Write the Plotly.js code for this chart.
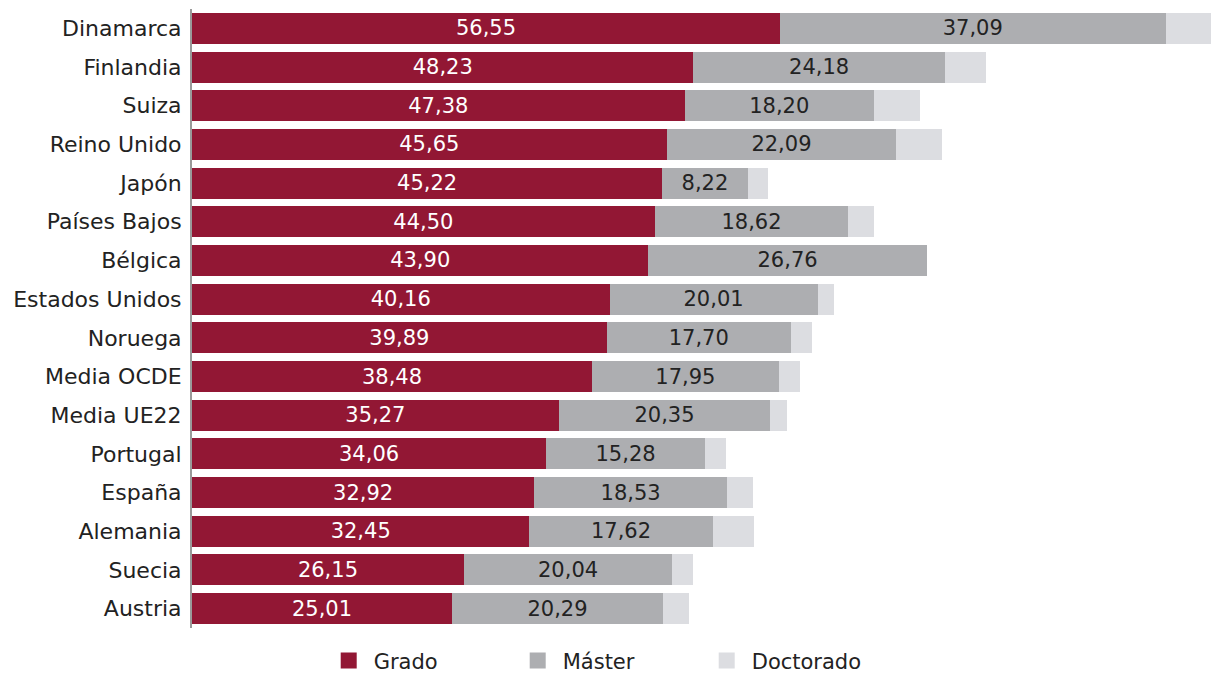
<!DOCTYPE html>
<html>
<head>
<meta charset="utf-8">
<script src="https://cdn.plot.ly/plotly-3.0.1.min.js"></script>
<style>html,body{margin:0;padding:0;background:#fff;}#chart{width:1213px;height:674px;}</style>
</head>
<body>
<div id="chart"></div>
<script>
const countries = ["Dinamarca","Finlandia","Suiza","Reino Unido","Japón","Países Bajos","Bélgica","Estados Unidos","Noruega","Media OCDE","Media UE22","Portugal","España","Alemania","Suecia","Austria"];
const grado = [56.55,48.23,47.38,45.65,45.22,44.50,43.90,40.16,39.89,38.48,35.27,34.06,32.92,32.45,26.15,25.01];
const master = [37.09,24.18,18.20,22.09,8.22,18.62,26.76,20.01,17.70,17.95,20.35,15.28,18.53,17.62,20.04,20.29];
const doctorado = [4.4,4.0,4.4,4.4,2.0,2.5,0,1.6,2.0,2.0,1.6,2.0,2.5,4.0,2.0,2.5];
const seriesNames = ["Grado","Máster","Doctorado"];
const seriesColors = ["#921734","#adaeb1","#dcdde1"];

const FONT = "'DejaVu Sans', sans-serif";
const traces = [
  {type:'bar', orientation:'h', name:seriesNames[0], y:countries, x:grado, showlegend:false,
   marker:{color:seriesColors[0]}, texttemplate:'%{x:.2f}', textposition:'inside',
   insidetextanchor:'middle', constraintext:'none',
   textfont:{color:'#ffffff', size:21, family:FONT}, hoverinfo:'skip'},
  {type:'bar', orientation:'h', name:seriesNames[1], y:countries, x:master, showlegend:false,
   marker:{color:seriesColors[1]}, texttemplate:'%{x:.2f}', textposition:'inside',
   insidetextanchor:'middle', constraintext:'none',
   textfont:{color:'#222222', size:21, family:FONT}, hoverinfo:'skip'},
  {type:'bar', orientation:'h', name:seriesNames[2], y:countries, x:doctorado, showlegend:false,
   marker:{color:seriesColors[2]}, textposition:'none', hoverinfo:'skip'}
];
// legend entries (square swatches)
seriesNames.forEach((n,i)=>{
  traces.push({type:'scatter', mode:'markers', name:n, x:[null], y:[null],
    marker:{symbol:'square', size:20, color:seriesColors[i]}, hoverinfo:'skip'});
});

const layout = {
  width:1213, height:674,
  barmode:'stack', bargap:0.2,
  separators:',.',
  margin:{l:192, r:0, t:9, b:46, autoexpand:false},
  paper_bgcolor:'#ffffff', plot_bgcolor:'#ffffff',
  font:{family:FONT, size:21, color:'#222222'},
  xaxis:{range:[0,98.2], showgrid:false, zeroline:false, showticklabels:false, ticks:'', fixedrange:true},
  yaxis:{type:'category', autorange:'reversed', showgrid:false, zeroline:false,
         showline:true, linecolor:'#9a9a9a', linewidth:2, ticks:'', ticklabelstandoff:4,
         tickfont:{size:22, color:'#222222', family:FONT}},
  showlegend:true,
  legend:{orientation:'h', x:0.129, xanchor:'left', y:-0.053, yanchor:'middle',
          font:{size:21, color:'#222222', family:FONT}, entrywidth:134, itemwidth:40,
          traceorder:'normal', itemsizing:'trace'}
};

Plotly.newPlot('chart', traces, layout, {displayModeBar:false, staticPlot:true});
</script>
</body>
</html>
